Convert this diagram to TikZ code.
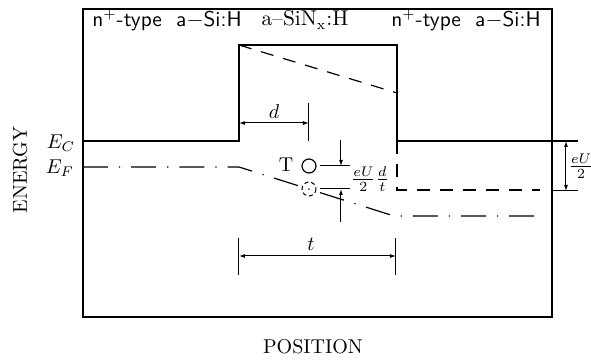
\documentclass[tikz,border=0pt]{standalone}
\usepackage{tikz}
\usetikzlibrary{arrows.meta}
\begin{document}
\begin{tikzpicture}[x=0.5pt, y=-0.5pt,
	band/.style={line width=0.6pt},
	shifted/.style={line width=0.6pt, dash pattern=on 6.5pt off 5pt},
	fermi/.style={line width=0.6pt, dash pattern=on 12.5pt off 5.5pt on 0.6pt off 5.5pt},
	dim/.style={line width=0.5pt, {Latex[length=3pt,width=2pt]}-{Latex[length=3pt,width=2pt]}},
	pointer/.style={line width=0.5pt, -{Latex[length=3pt,width=2pt]}},
	tickline/.style={line width=0.5pt},
	layer/.style={font=\fontsize{10.7}{12}\selectfont},
	contact/.style={font=\sffamily\fontsize{10.7}{12}\selectfont}]
	\useasboundingbox (0,0) rectangle (591,363);
	\draw[band] (83,9) rectangle (552,317);
	% conduction band, no bias
	\draw[band] (83,141) -- (239,141) -- (239,45) -- (397,45) -- (397,141) -- (578,141);
	% conduction band and Fermi level, with bias
	\draw[shifted] (239,45) -- (397,93);
	\draw[shifted] (397,141) -- (397,190) -- (540,190);
	\draw[fermi] (83,167) -- (239,167) -- (394,216) -- (540,216);
	% trap levels
	\draw[band] (309,166) circle[radius=7];
	\draw[line width=0.5pt, dash pattern=on 2pt off 1.5pt] (309,189) circle[radius=7];
	\draw[tickline] (320,166) -- (350,166);
	\draw[tickline] (320,189) -- (350,189);
	\draw[pointer] (341,140) -- (341,166);
	\draw[pointer] (341,222) -- (341,189);
	% dimensions
	\draw[tickline] (309,103) -- (309,141);
	\draw[dim] (239,123) -- (309,123);
	\draw[tickline] (239,238) -- (239,275);
	\draw[tickline] (396,238) -- (396,275);
	\draw[dim] (239,256) -- (396,256);
	\draw[tickline] (552,191) -- (578,191);
	\draw[dim] (566,141) -- (566,191);
	% labels
	\node[contact] (nleft) at (167,20) {n$^+$-type\ \ a$-$Si:H};
	\node[layer] (barrier) at (305,20) {a--SiN$_\mathrm{x}$:H};
	\node[contact] (nright) at (466,20) {n$^+$-type\ \ a$-$Si:H};
	\node (ec) at (61,143) {$E_C$};
	\node (ef) at (60,168) {$E_F$};
	\node (dlabel) at (274,112) {$d$};
	\node (tlabel) at (311,244) {$t$};
	\node (trap) at (286,165) {T};
	\node (shift) at (370,179) {$\frac{eU}{2}\frac{d}{t}$};
	\node (bias) at (581,166) {$\frac{eU}{2}$};
	\node[rotate=90] (energy) at (20,170) {ENERGY};
	\node (position) at (313,347) {POSITION};
\end{tikzpicture}
\end{document}
